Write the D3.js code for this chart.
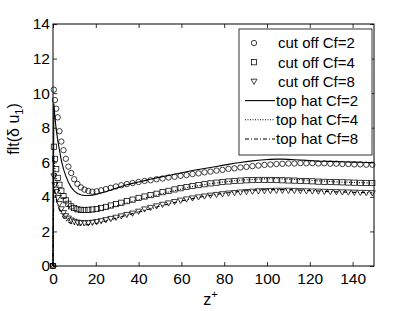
<!DOCTYPE html>
<meta charset="utf-8">
<script src="https://d3js.org/d3.v7.min.js"></script>
<style>
  body { margin: 0; background: #fff; }
  text { font-family: "Liberation Sans", Arial, sans-serif; fill: #000; }
</style>
<div id="chart"></div>
<script>
// z+ positions shared by all series
var zPlus = [0, 0.4, 0.9, 1.5, 2.2, 3.0, 3.9, 4.9, 6.0, 7.2, 8.5, 9.9, 11.4, 13.0, 14.7, 16.5, 18.4, 20.4, 22.5, 24.7,
  27.0, 29.4, 31.9, 34.5, 37.2, 40.0, 42.8, 45.6, 48.4, 51.2, 54.0, 56.8, 59.6, 62.4, 65.2, 68.0, 70.8, 73.6, 76.4, 79.2,
  82.0, 84.8, 87.6, 90.4, 93.2, 96.0, 98.8, 101.6, 104.4, 107.2, 110.0, 112.8, 115.6, 118.4, 121.2, 124.0, 126.8, 129.6,
  132.4, 135.2, 138.0, 140.8, 143.6, 146.4, 149.2];

// cut off filter (markers)
var cutoff2 = [0, 10.2, 9.6, 9.1, 8.6, 7.8, 7.2, 6.7, 6.2, 5.75, 5.38, 5.02, 4.75, 4.55, 4.42, 4.34, 4.3, 4.32, 4.38, 4.45,
  4.52, 4.6, 4.67, 4.74, 4.8, 4.86, 4.92, 4.96, 5.02, 5.06, 5.12, 5.16, 5.22, 5.26, 5.32, 5.36, 5.42, 5.46, 5.52, 5.56,
  5.62, 5.65, 5.7, 5.73, 5.78, 5.81, 5.85, 5.87, 5.9, 5.91, 5.93, 5.93, 5.95, 5.94, 5.95, 5.93, 5.94, 5.92, 5.92, 5.9,
  5.9, 5.88, 5.88, 5.86, 5.86];
var cutoff4 = [0, 6.9, 6.2, 5.6, 5.1, 4.7, 4.35, 4.05, 3.8, 3.6, 3.45, 3.35, 3.28, 3.25, 3.24, 3.25, 3.27, 3.3, 3.35, 3.42,
  3.5, 3.58, 3.66, 3.75, 3.84, 3.94, 4.02, 4.1, 4.18, 4.27, 4.35, 4.43, 4.5, 4.57, 4.63, 4.68, 4.73, 4.78, 4.82, 4.86,
  4.89, 4.92, 4.94, 4.96, 4.97, 4.98, 4.98, 4.98, 4.97, 4.96, 4.95, 4.94, 4.92, 4.91, 4.9, 4.88, 4.87, 4.86, 4.85, 4.84,
  4.83, 4.82, 4.81, 4.8, 4.8];
var cutoff8 = [0, 5.2, 4.7, 4.3, 3.95, 3.6, 3.3, 3.08, 2.9, 2.76, 2.65, 2.58, 2.53, 2.5, 2.49, 2.5, 2.52, 2.56, 2.61, 2.67,
  2.74, 2.81, 2.89, 2.97, 3.05, 3.16, 3.29, 3.38, 3.47, 3.56, 3.64, 3.72, 3.8, 3.87, 3.93, 3.99, 4.04, 4.09, 4.13, 4.17,
  4.21, 4.24, 4.27, 4.3, 4.32, 4.34, 4.35, 4.36, 4.37, 4.37, 4.37, 4.36, 4.35, 4.34, 4.33, 4.32, 4.31, 4.3, 4.29, 4.28,
  4.27, 4.26, 4.25, 4.24, 4.23];

// top hat filter (lines)
var tophat2 = [0, 9.4, 8.6, 7.9, 7.3, 6.7, 6.1, 5.6, 5.2, 4.85, 4.55, 4.35, 4.2, 4.12, 4.08, 4.08, 4.1, 4.15, 4.22, 4.3,
  4.4, 4.5, 4.6, 4.7, 4.78, 4.86, 4.94, 5.02, 5.1, 5.17, 5.24, 5.31, 5.38, 5.45, 5.52, 5.58, 5.64, 5.7, 5.76, 5.82,
  5.88, 5.94, 5.99, 6.04, 6.08, 6.12, 6.15, 6.17, 6.18, 6.18, 6.17, 6.15, 6.13, 6.11, 6.09, 6.07, 6.06, 6.05, 6.04, 6.03,
  6.02, 6.01, 6.0, 5.99, 5.98];
var tophat4 = [0, 6.3, 5.6, 5.1, 4.7, 4.35, 4.05, 3.8, 3.6, 3.43, 3.3, 3.2, 3.14, 3.1, 3.09, 3.1, 3.13, 3.17, 3.23, 3.3,
  3.38, 3.47, 3.56, 3.65, 3.74, 3.83, 3.92, 4.01, 4.1, 4.19, 4.28, 4.36, 4.44, 4.52, 4.59, 4.65, 4.71, 4.76, 4.81, 4.85,
  4.89, 4.93, 4.96, 4.99, 5.01, 5.03, 5.04, 5.05, 5.05, 5.04, 5.03, 5.01, 4.99, 4.97, 4.95, 4.93, 4.91, 4.89, 4.87, 4.85,
  4.84, 4.83, 4.82, 4.81, 4.8];
var tophat8 = [0, 4.8, 4.3, 3.9, 3.55, 3.25, 3.0, 2.8, 2.65, 2.54, 2.46, 2.41, 2.38, 2.37, 2.37, 2.39, 2.42, 2.47, 2.53, 2.6,
  2.68, 2.76, 2.85, 2.94, 3.03, 3.12, 3.21, 3.31, 3.41, 3.5, 3.59, 3.67, 3.75, 3.83, 3.9, 3.97, 4.03, 4.09, 4.14, 4.19,
  4.24, 4.28, 4.32, 4.35, 4.38, 4.4, 4.41, 4.42, 4.42, 4.42, 4.41, 4.4, 4.39, 4.37, 4.36, 4.34, 4.32, 4.3, 4.29, 4.28,
  4.27, 4.26, 4.25, 4.24, 4.23];

var xTicks = [0, 20, 40, 60, 80, 100, 120, 140];
var yTicks = [0, 2, 4, 6, 8, 10, 12, 14];
var legendLabels = ["cut off Cf=2", "cut off Cf=4", "cut off Cf=8", "top hat Cf=2", "top hat Cf=4", "top hat Cf=8"];

var W = 414, H = 311;
var margin = {top: 24, right: 40, bottom: 45, left: 53};
var width = W - margin.left - margin.right,
    height = H - margin.top - margin.bottom;

var svg = d3.select("#chart").append("svg")
    .attr("width", W).attr("height", H);
var g = svg.append("g")
    .attr("transform", "translate(" + margin.left + "," + margin.top + ")");

var x = d3.scaleLinear().domain([0, 150]).range([0, width]);
var y = d3.scaleLinear().domain([0, 14]).range([height, 0]);

// axes, ticks pointing inward on all four sides
g.append("g").attr("transform", "translate(0," + height + ")")
  .call(d3.axisBottom(x).tickValues(xTicks).tickSizeInner(-4).tickSizeOuter(0).tickPadding(7));
g.append("g")
  .call(d3.axisLeft(y).tickValues(yTicks).tickSizeInner(-4).tickSizeOuter(0).tickPadding(3));
g.append("g")
  .call(d3.axisTop(x).tickValues(xTicks).tickSizeInner(-4).tickSizeOuter(0).tickFormat(""));
g.append("g").attr("transform", "translate(" + width + ",0)")
  .call(d3.axisRight(y).tickValues(yTicks).tickSizeInner(-4).tickSizeOuter(0).tickFormat(""));
g.selectAll(".domain").remove();
g.selectAll(".tick line").attr("stroke", "#000").attr("stroke-width", 0.8);
g.selectAll(".tick text").style("font-size", "15.5px").attr("fill", "#000")
  .style("font-family", "'Liberation Sans', Arial, sans-serif");
g.append("rect").attr("width", width).attr("height", height)
  .attr("fill", "none").attr("stroke", "#000").attr("stroke-width", 1);

// lines
var lineStyles = [
  {data: tophat2, dash: null},
  {data: tophat4, dash: "1,1.5"},
  {data: tophat8, dash: "4,2,1,2"}
];
var line = d3.line()
  .x(function(d, i) { return x(zPlus[i]); })
  .y(function(d) { return y(d); });
lineStyles.forEach(function(s) {
  g.append("path").datum(s.data)
    .attr("d", line)
    .attr("fill", "none").attr("stroke", "#000").attr("stroke-width", 1.1)
    .attr("stroke-dasharray", s.dash);
});

// marker shapes
function marker(sel, kind) {
  if (kind === "circle") {
    sel.append("circle").attr("r", 2.7);
  } else if (kind === "square") {
    sel.append("rect").attr("x", -2.6).attr("y", -2.6).attr("width", 5.2).attr("height", 5.2);
  } else {
    sel.append("path").attr("d", "M-3,-2.2L3,-2.2L0,3Z");
  }
  sel.selectAll("*").attr("fill", "none").attr("stroke", "#000").attr("stroke-width", 0.75);
}
var markerSeries = [
  {data: cutoff2, kind: "circle"},
  {data: cutoff4, kind: "square"},
  {data: cutoff8, kind: "triangle"}
];
markerSeries.forEach(function(s) {
  g.append("g").selectAll("g").data(s.data).enter().append("g")
    .attr("transform", function(d, i) { return "translate(" + x(zPlus[i]) + "," + y(d) + ")"; })
    .each(function() { marker(d3.select(this), s.kind); });
});

// axis labels
var xl = svg.append("text")
  .attr("x", margin.left + width / 2 - 3).attr("y", 305)
  .attr("text-anchor", "middle").style("font-size", "16px");
xl.append("tspan").text("z");
xl.append("tspan").text("+").attr("dy", -7).style("font-size", "11px");

var yl = svg.append("text")
  .attr("transform", "translate(19,129) rotate(-90)")
  .attr("text-anchor", "middle").style("font-size", "16px");
yl.append("tspan").text("flt(δ u");
yl.append("tspan").text("1").attr("dy", 4).style("font-size", "11px");
yl.append("tspan").text(")").attr("dy", -4);

// legend
var leg = svg.append("g");
leg.append("rect").attr("x", 239).attr("y", 29).attr("width", 133).attr("height", 126)
  .attr("fill", "#fff").attr("stroke", "#000").attr("stroke-width", 0.8);
var rowY = d3.scaleLinear().domain([0, 5]).range([43, 139]);
legendLabels.forEach(function(lab, i) {
  var ry = rowY(i);
  if (i < 3) {
    var mg = leg.append("g").attr("transform", "translate(254," + ry + ")");
    marker(mg, markerSeries[i].kind);
  } else {
    leg.append("line").attr("x1", 245).attr("x2", 275).attr("y1", ry).attr("y2", ry)
      .attr("stroke", "#000").attr("stroke-width", 1.1)
      .attr("stroke-dasharray", lineStyles[i - 3].dash);
  }
  leg.append("text").attr("x", i < 3 ? 278 : 276).attr("y", ry)
    .attr("dy", "0.36em").style("font-size", "15px").text(lab);
});
</script>
